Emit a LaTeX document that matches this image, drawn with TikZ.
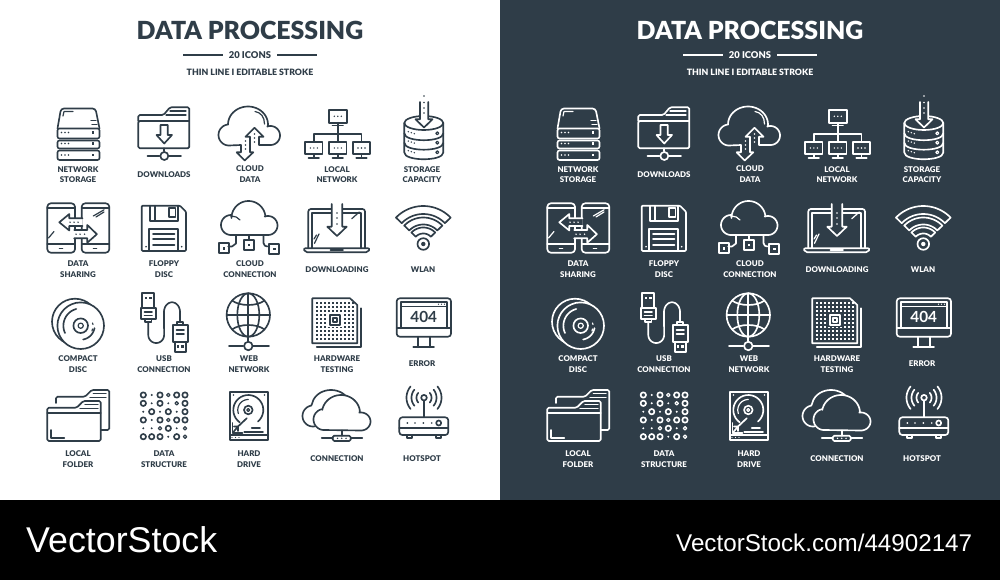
\documentclass[tikz,border=0pt]{standalone}
\usepackage{fontspec}
\setmainfont{Lato}[BoldFont={Lato Black}]
\newfontfamily\midfont{Lato}
\newfontfamily\wmfont{Liberation Sans}
\definecolor{slate}{HTML}{2F3D48}
\colorlet{ink}{slate}
\colorlet{paper}{white}
\tikzset{
  ic/.style={draw=ink,line width=1.65pt,line join=round,line cap=round},
  icf/.style={ic,fill=paper},
  thin ic/.style={draw=ink,line width=1.2pt,line join=round,line cap=round},
  rr/.style={rounded corners=2pt},
  lab/.style={text=ink,font=\bfseries\fontsize{7.9}{10.5}\selectfont,align=center,inner sep=0pt},
  ttl/.style={text=ink,font=\bfseries\fontsize{24.9}{28}\selectfont,inner sep=0pt},
  sub/.style={text=ink,font=\bfseries\fontsize{9.4}{10}\selectfont,inner sep=0pt},
  wm/.style={text=white,inner sep=0pt,anchor=base west}
}
% plot segment of an elliptic arc, angles as seen on the page
\newcommand\ca[6]{plot[variable=\t,domain=#5:#6,samples=28] ({#1+#3*cos(\t)},{#2-#4*sin(\t)})}
\newcommand\cl[6]{-- plot[variable=\t,domain=#5:#6,samples=28] ({#1+#3*cos(\t)},{#2-#4*sin(\t)})}
\newcommand\pip[2]{\fill[ink] (#1,#2) circle (0.95pt);}
\newcommand\sqp[2]{\fill[ink] ({#1-1.3},{#2-1.3}) rectangle ({#1+1.3},{#2+1.3});}
\newcommand\lab[4]{\node[lab] (#1) at (#2,#3) {#4};}
\newcommand\band[2]{\draw[icf] \ca{423.3}{244}{#1}{#1}{44}{136} \cl{423.3}{244}{#2}{#2}{136}{44} -- cycle;}
\newcommand\panelicons{%
  % ---- header
  \node[ttl] (title) at (250,30) {DATA PROCESSING};
  \node[sub] (count) at (250,55) {20 ICONS};
  \coordinate (ll) at (183,55); \coordinate (lli) at (223,55);
  \coordinate (lr) at (317,55); \coordinate (lri) at (277,55);
  \draw[ink,line width=1.3pt] (ll) -- (lli);
  \draw[ink,line width=1.3pt] (lri) -- (lr);
  \node[sub,font=\bfseries\fontsize{8.75}{10}\selectfont] (stroke) at (250,72) {THIN LINE I EDITABLE STROKE};
  % ---- network storage
  \draw[ic,rounded corners=3pt] (57.5,128.5) -- (61,108.5) -- (95.5,108.5) -- (99.5,128.5);
  \draw[thin ic] (63,116) -- (64,111.5) -- (73,111.5);
  \draw[thin ic] (91,120.5) -- (96,120.5) (92,124.5) -- (97,124.5);
  \draw[ic,rr] (57.5,128.5) rectangle (99.5,138.5);
  \draw[ic,rr] (57.5,140.5) rectangle (99.5,148.5);
  \draw[ic,rr] (57.5,150.5) rectangle (99.5,160);
  \foreach \y in {132.5,143.5,155}{\pip{61.5}{\y}\pip{65}{\y}\pip{68.5}{\y}\sqp{93}{\y}}
  % ---- downloads
  \draw[ic,rounded corners=1.5pt] (138.3,121) -- (138.3,115) -- (163.5,115) -- (170,107.3) -- (189.3,107.3) -- (189.3,148.3) -- (138.3,148.3) -- (138.3,121) -- (189.3,121);
  \draw[thin ic] (170,111) -- (186,111) (166,115) -- (186,115);
  \draw[ic] (160.5,125) -- (167.8,125) -- (167.8,135) -- (172,135) -- (164.2,143.5) -- (156.5,135) -- (160.5,135) -- cycle;
  \node[circle,ic,minimum size=8pt,inner sep=0pt] (dlhub) at (164.3,156) {};
  \coordinate (dltop) at (164.3,148.3); \coordinate (dll) at (147.5,156); \coordinate (dlr) at (181,156);
  \draw[ic] (dltop) -- (dlhub) (dll) -- (dlhub) (dlhub) -- (dlr);
  % ---- cloud data
  \draw[ic] (241,145) \cl{229}{135}{10.5}{10.5}{270}{95} \cl{248}{124.5}{20}{18}{180}{-5} \cl{270.5}{135.5}{9.5}{9.5}{110}{-90} -- (259,145) -- (259,136.7) -- (263.5,136.7) -- (254.5,127.7) -- (245.5,136.7) -- (250,136.7) -- (250,152.3) -- (253.3,152.3) -- (244.7,160.5) -- (236.7,152.3) -- (241,152.3) -- cycle;
  \draw[thin ic] (255,111.5) .. controls (261,112.5) and (264.5,117) .. (264.5,124);
  \foreach \y in {134,138,142}{\fill[ink] (254.5,\y) circle (0.8pt);}
  \foreach \y in {141,145,149}{\fill[ink] (245.5,\y) circle (0.8pt);}
  % ---- local network
  \draw[ic] (329,110) rectangle (346.7,122.7);
  \draw[ic] (337.7,122.7) -- (337.7,141.7) (332.5,125.5) -- (343,125.5);
  \draw[ic] (313.8,141.7) -- (313.8,134) -- (361.5,134) -- (361.5,141.7);
  \foreach \x in {305,329,352.7}{
    \draw[ic] (\x,141.7) rectangle ({\x+17.6},154);
    \draw[ic] ({\x+8.8},154) -- ({\x+8.8},157.7) ({\x+3.5},157.7) -- ({\x+14},157.7);
    \foreach \d in {5.3,8.8,12.3}{\fill[ink] ({\x+\d},148) circle (0.8pt);}
  }
  \foreach \d in {334.3,337.8,341.3}{\fill[ink] (\d,116.3) circle (0.8pt);}
  % ---- storage capacity
  \draw[ic] (404.3,123) -- (404.3,152.5) .. controls (404.3,161.5) and (443.3,161.5) .. (443.3,152.5) -- (443.3,123);
  \draw[ic] (404.3,133.3) .. controls (404.3,142.5) and (443.3,142.5) .. (443.3,133.3);
  \draw[ic] (404.3,142.8) .. controls (404.3,152) and (443.3,152) .. (443.3,142.8);
  \draw[ic] (423.8,123) ellipse [x radius=19.5pt,y radius=7pt];
  \draw[icf] (420,102) -- (420,119.3) -- (415.5,119.3) -- (424,127.5) -- (432.5,119.3) -- (428.3,119.3) -- (428.3,102);
  \foreach \y in {96,102.5,108,113}{\fill[ink] (424,\y) circle (0.8pt);}
  \foreach \y in {0,9.4,19}{
    \fill[ink] (408.3,{131.7+\y}) circle (0.8pt) (411.3,{132.7+\y}) circle (0.8pt) (414.3,{133.7+\y}) circle (0.8pt);
    \draw[thin ic] (437.3,{133.3+\y}) circle (1.5pt);
  }
  % ---- data sharing
  \draw[ic,rounded corners=3.5pt] (47.3,203.3) rectangle (75,252.7);
  \draw[ic,rounded corners=3.5pt] (81.7,203.3) rectangle (109.3,252.7);
  \draw[ic] (47.3,208.3) -- (75,208.3) (81.7,208.3) -- (109.3,208.3);
  \draw[ic] (47.3,244) -- (75,244) (81.7,244) -- (109.3,244);
  \draw[ic] (59.5,248.4) -- (62.5,248.4) (93.5,248.4) -- (96.5,248.4);
  \draw[thin ic] (93.3,216) -- (104,209.8) (96,217) -- (104,212);
  \draw[thin ic] (48.5,238) -- (54,231.5);
  \draw[icf] (82.6,218.3) -- (69.3,218.3) -- (69.3,214) -- (59.3,222.3) -- (69.3,230.5) -- (69.3,226) -- (82.6,226);
  \draw[icf] (74.1,230) -- (87.3,230) -- (87.3,225) -- (96.9,234.2) -- (87.3,242.7) -- (87.3,238.3) -- (74.1,238.3);
  \foreach \x in {70,74,78}{\fill[ink] (\x,222.2) circle (0.8pt);}
  \foreach \x in {76,80,84.5}{\fill[ink] (\x,234.2) circle (0.8pt);}
  % ---- floppy
  \draw[ic,rounded corners=1pt] (141.7,205.7) -- (180,205.7) -- (186,211.7) -- (186,251) -- (141.7,251) -- cycle;
  \draw[ic] (150,205.7) -- (150,220.7) -- (178.3,220.7) -- (178.3,205.7);
  \draw[ic] (155,205.7) -- (155,220.7);
  \draw[ic] (169.3,207.8) rectangle (175.5,217.3);
  \draw[ic] (149.3,251) -- (149.3,229.3) -- (178.3,229.3) -- (178.3,251);
  \draw[ic] (153,234) -- (174.5,234) (153,239.3) -- (174.5,239.3) (153,244.7) -- (174.5,244.7);
  \pip{146}{246.7}\pip{181.7}{246.7}
  % ---- cloud connection
  \draw[ic] \ca{231}{225}{10}{10}{270}{90} \cl{248.5}{218}{17}{17}{180}{5} \cl{268}{225.5}{9.5}{9.5}{110}{-90} -- cycle;
  \draw[thin ic] (231.5,216) .. controls (235,216) and (238,217.5) .. (240,220);
  \draw[ic] (236,235) -- (236,243.5) -- (232,246.5) -- (228.3,246.5);
  \draw[ic] (249,235) -- (249,240);
  \draw[ic] (263.5,235) -- (263.5,243) .. controls (263.5,245.5) and (265,246.5) .. (269.3,246.5);
  \draw[ic] (219,243.3) rectangle (228.8,253.3);
  \draw[ic] (243.8,240) rectangle (254.3,250);
  \draw[ic] (269.3,244) rectangle (279,254);
  \sqp{224}{248.3}\sqp{249}{245}\sqp{274.2}{249}
  % ---- downloading
  \draw[ic,rounded corners=2.5pt] (308.3,248.3) -- (308.3,209) -- (365,209) -- (365,248.3);
  \draw[ic] (312.3,248.3) -- (312.3,213.3) -- (361,213.3) -- (361,248.3);
  \draw[ic,rounded corners=2pt] (303.3,248.3) -- (370,248.3) -- (368,252.3) -- (305.3,252.3) -- cycle;
  \draw[ic] (330.5,250) -- (343,250);
  \draw[thin ic] (351.7,218.8) -- (359.3,212) (314.5,243.3) -- (319,234) (314,239) -- (316.5,235);
  \draw[icf] (331.7,204) -- (331.7,226.7) -- (327.3,226.7) -- (337,236) -- (346.7,226.7) -- (342.3,226.7) -- (342.3,204);
  \foreach \y in {213,218,224}{\fill[ink] (337,\y) circle (0.95pt);}
  % ---- wlan
  \band{38}{30}\band{26.5}{19.5}\band{16.5}{10.5}
  \draw[ic] (423.3,244) circle (5.8pt);
  \fill[ink] (423.3,244) circle (2.2pt);
  % ---- compact disc
  \draw[icf] (75,321.7) circle (23pt);
  \draw[icf] (80.7,325.7) circle (23.3pt);
  \draw[ic] (80.7,325.7) circle (7.3pt);
  \draw[thin ic] (80.7,325.7) circle (2.6pt);
  \draw[ic] \ca{80.7}{325.7}{17.3}{17.3}{105}{205};
  \draw[ic] \ca{80.7}{325.7}{14}{14}{-80}{-10};
  \draw[thin ic] (92.5,323) -- (93,324.5) (92.5,329) -- (92,331);
  % ---- usb
  \draw[ic] (142.3,308.3) -- (142.3,293.3) -- (154,293.3) -- (154,308.3);
  \draw[ic] (140.7,308.3) rectangle (156,319.3);
  \draw[ic] (145.2,319.3) -- (145.2,322) -- (151.5,322) -- (151.5,319.3);
  \draw[ic] (144.5,312) -- (152,312) (144.5,315.5) -- (152,315.5);
  \sqp{146}{298}\sqp{150.5}{298}
  \draw[ic] (148.3,322) -- (148.3,335) \cl{156.2}{335}{7.9}{8}{180}{360} -- (164,312) \cl{172}{312}{8}{9.7}{180}{0} -- (180,322.3);
  \draw[ic] (177,325) -- (177,322.3) -- (183.2,322.3) -- (183.2,325);
  \draw[ic] (172.7,325) rectangle (188,341.7);
  \draw[ic] (176.5,330) -- (184,330) (176.5,334) -- (184,334);
  \draw[ic] (175,341.7) -- (175,351.7) -- (185.7,351.7) -- (185.7,341.7);
  \sqp{178}{346.7}\sqp{182.5}{346.7}
  % ---- web network
  \draw[ic] (248.3,315) circle (21.7pt);
  \draw[ic] (248.3,315) ellipse [x radius=11pt,y radius=21.7pt];
  \draw[ic] (248.3,293.3) -- (248.3,341.5);
  \draw[ic] (226.6,315) -- (270,315);
  \draw[ic] (232,300.5) .. controls (240,306.5) and (256.5,306.5) .. (264.6,300.5);
  \draw[ic] (232,329.5) .. controls (240,323.5) and (256.5,323.5) .. (264.6,329.5);
  \node[circle,ic,minimum size=8.5pt,inner sep=0pt] (webhub) at (248.3,346) {};
  \coordinate (webl) at (229,346); \coordinate (webr) at (269,346);
  \draw[ic] (webl) -- (webhub) (webhub) -- (webr);
  % ---- hardware testing
  \draw[ic] (312.3,298.3) -- (350,298.3) -- (357.3,305) -- (357.3,343.3) -- (312.3,343.3) -- cycle;
  \draw[ic] (360.7,308.3) -- (360.7,346.7) -- (316.7,346.7);
  \foreach \x in {317,321,325,329,333,337,341,345,349,353}{
    \foreach \y in {303,307,311,315,319,323,327,331,335,339}{
      \fill[ink] ({\x-1.1},{\y-1.1}) rectangle ({\x+1.1},{\y+1.1});
    }
  }
  \fill[paper] (328,313) rectangle (342,327);
  \draw[ic] (330,315) rectangle (340,325);
  \draw[thin ic] (333,318) rectangle (337,322);
  % ---- error
  \draw[ic,rounded corners=3pt] (396.7,298.3) rectangle (451,336.7);
  \draw[ic] (400.7,328.3) -- (400.7,301.7) -- (447.3,301.7) -- (447.3,328.3);
  \draw[ic] (396.7,328.3) -- (451,328.3);
  \draw[thin ic] (400.7,306.7) -- (447.3,306.7);
  \foreach \x in {438.5,441.5,444.5}{\fill[ink] (\x,304.2) circle (0.7pt);}
  \node[text=ink,font=\midfont\bfseries\fontsize{15.3}{16}\selectfont,inner sep=0pt] (err) at (423.7,317.3) {404};
  \draw[ic] (417.7,336.7) -- (417.7,347.3) (430,336.7) -- (430,347.3) (413.3,347.3) -- (434,347.3);
  % ---- local folder
  \draw[ic,rounded corners=1.5pt] (56,403) -- (56,396.7) -- (85,396.7) -- (91.7,390) -- (109.3,390) -- (109.3,430) -- (100.7,430);
  \draw[thin ic] (93.3,393.5) -- (106,393.5) (90,397.5) -- (106,397.5);
  \draw[icf,rounded corners=1.5pt] (47.3,413.3) -- (47.3,407.7) -- (76.7,407.7) -- (83.3,401) -- (100.7,401) -- (100.7,441) -- (47.3,441) -- cycle;
  \draw[ic] (47.3,413.3) -- (100.7,413.3);
  \draw[thin ic] (85,404.8) -- (98,404.8) (80,408.8) -- (98,408.8);
  \draw[ic] (50.7,430) -- (50.7,437.7) -- (64.3,437.7);
  % ---- data structure
  \foreach \x/\y in {143.3/395,160/395,176.7/395,185/395,143.3/403.3,160/403.3,185/403.3,151.7/411.7,168.3/411.7,185/411.7,143.3/420,160/420,176.7/420,185/420,168.3/428.3,143.3/436.7,151.7/436.7,160/436.7,176.7/436.7}{\draw[ic] (\x,\y) circle (2.7pt);}
  \foreach \x/\y in {168.3/395,176.7/403.3,168.3/420,160/428.3,185/428.3,185/436.7}{\draw[thin ic] (\x,\y) circle (1.7pt);}
  \foreach \x/\y in {151.7/395,151.7/403.3,168.3/403.3,143.3/411.7,160/411.7,176.7/411.7,151.7/420,143.3/428.3,151.7/428.3,176.7/428.3,168.3/436.7}{\fill[ink] (\x,\y) circle (1.1pt);}
  % ---- hard drive
  \draw[ic] (230,391.7) rectangle (268.3,440);
  \draw[ic] (230,435) -- (268.3,435);
  \foreach \x in {232,235.5,239}{\fill[ink] (\x,437.5) circle (0.7pt);}
  \pip{233.5}{395}\pip{264.5}{395}
  \draw[ic] \ca{248.3}{410}{15}{15}{235}{-50};
  \draw[ic] (248.3,410) circle (4.3pt);
  \draw[thin ic] (248.3,410) circle (1.5pt);
  \draw[thin ic] \ca{248.3}{410}{10.5}{10.5}{200}{90};
  \draw[ic] (246.7,418.3) -- (238,426.5);
  \draw[ic] (232.5,423) -- (232.5,433) -- (242.5,433);
  \draw[ic] (233,432.5) -- (238,426.5) (234,426.5) -- (238,426.5) -- (238,431);
  \draw[ic] (251.7,427.7) -- (260,427.7) (244.3,431.7) -- (263,431.7);
  % ---- connection
  \draw[ic] \ca{313}{416}{10.5}{10.5}{280}{100} \cl{331}{406}{19}{16}{170}{30};
  \draw[icf] \ca{324}{419.5}{10.5}{10.5}{270}{100} \cl{341}{413}{19}{18}{170}{5} \cl{361}{421.5}{9.5}{9}{100}{-90} -- cycle;
  \draw[ic,rounded corners=1.5pt] (332.7,435.7) rectangle (350.7,441);
  \draw[ic] (341.7,430.5) -- (341.7,435.7);
  \draw[ic] (321.7,438.3) -- (332.7,438.3) (350.7,438.3) -- (362.3,438.3);
  \foreach \x in {337.5,341.7,346}{\fill[ink] (\x,438.3) circle (0.8pt);}
  % ---- hotspot
  \draw[ic,rounded corners=3pt] (399.3,417.3) rectangle (448.3,435);
  \draw[ic] (399.3,427.7) -- (448.3,427.7);
  \draw[ic] (406.7,435) -- (406.7,438.3) -- (411.7,438.3) -- (411.7,435);
  \draw[ic] (436,435) -- (436,438.3) -- (441,438.3) -- (441,435);
  \pip{407.3}{423}\pip{415}{423}\pip{423.3}{423}\pip{431.7}{423}
  \draw[ic] (438.7,423) circle (2.5pt);
  \draw[ic] (424,400.5) -- (424,417.3);
  \draw[ic] (424,397.7) circle (2.8pt);
  \foreach \r in {7.5,12.5,17.5}{
    \draw[ic] \ca{424}{397.7}{\r}{\r}{-40}{40};
    \draw[ic] \ca{424}{397.7}{\r}{\r}{140}{220};
  }
  % ---- labels
  \lab{l1}{78}{174.7}{NETWORK\\STORAGE}
  \lab{l2}{164}{174.3}{DOWNLOADS}
  \lab{l3}{250}{174.3}{CLOUD\\DATA}
  \lab{l4}{337}{174.7}{LOCAL\\NETWORK}
  \lab{l5}{422}{174.7}{STORAGE\\CAPACITY}
  \lab{l6}{78}{269.3}{DATA\\SHARING}
  \lab{l7}{164}{269.3}{FLOPPY\\DISC}
  \lab{l8}{250}{269.3}{CLOUD\\CONNECTION}
  \lab{l9}{337}{269.3}{DOWNLOADING}
  \lab{l10}{423}{269.3}{WLAN}
  \lab{l11}{78}{364}{COMPACT\\DISC}
  \lab{l12}{164}{364}{USB\\CONNECTION}
  \lab{l13}{249}{364}{WEB\\NETWORK}
  \lab{l14}{337}{364}{HARDWARE\\TESTING}
  \lab{l15}{422}{364}{ERROR}
  \lab{l16}{78}{459}{LOCAL\\FOLDER}
  \lab{l17}{164}{459}{DATA\\STRUCTURE}
  \lab{l18}{249}{459}{HARD\\DRIVE}
  \lab{l19}{337}{458.5}{CONNECTION}
  \lab{l20}{422}{458.5}{HOTSPOT}
}
\begin{document}
\begin{tikzpicture}[x=1pt,y=-1pt]
  \useasboundingbox (0,0) rectangle (1000,580);
  \fill[white] (0,0) rectangle (500,500);
  \fill[slate] (500,0) rectangle (1000,500);
  \fill[black] (0,500) rectangle (1000,580);
  \begin{scope}[name prefix=a-]
    \panelicons
  \end{scope}
  \begin{scope}[xshift=500pt,name prefix=b-]
    \colorlet{ink}{white}\colorlet{paper}{slate}
    \panelicons
  \end{scope}
  \node[wm,font=\wmfont\fontsize{35.8}{35}\selectfont] (brand) at (26,552) {VectorStock};
  \node[wm,font=\wmfont\fontsize{24.2}{24}\selectfont] (url) at (676,551) {VectorStock.com/44902147};
\end{tikzpicture}
\end{document}
